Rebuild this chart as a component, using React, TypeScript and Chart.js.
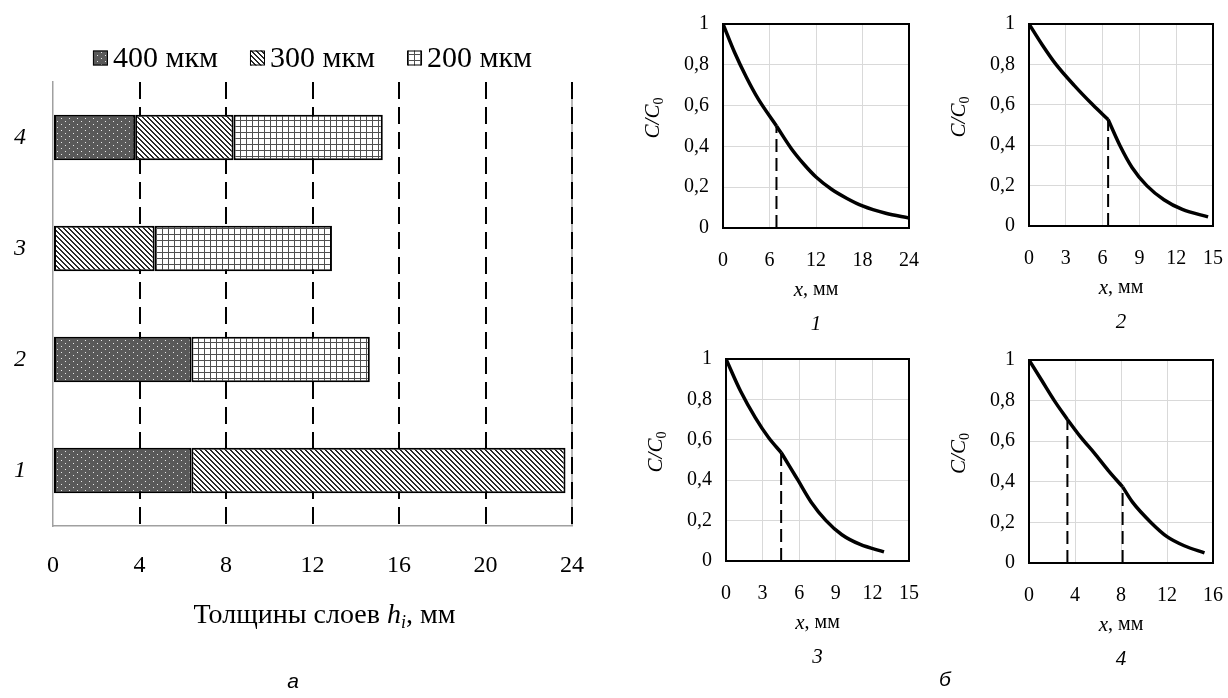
import React, { useEffect, useRef } from "react";
import { Chart, registerables } from "chart.js";
Chart.register(...registerables);

// ---------- Panel (а): layer thicknesses, mm ----------
const sampleLabels = ["1", "2", "3", "4"];
const layerNames = ["400 мкм", "300 мкм", "200 мкм"];
const layer400 = [6.4, 6.4, null, 3.8];
const layer300 = [17.3, null, 4.7, 4.55];
const layer200 = [null, 8.25, 8.2, 6.9];
const thicknessMax = 24;
const thicknessStep = 4;

// ---------- Panel (б): concentration profiles C/C0 vs x ----------
// profile 1
const p1aX = [0, 1.5, 3, 4.5, 6.9];
const p1aY = [1, 0.86, 0.74, 0.635, 0.5];
const p1bX = [6.9, 8.8, 10.5, 12, 14, 16, 18, 21, 24];
const p1bY = [0.5, 0.39, 0.31, 0.25, 0.19, 0.145, 0.108, 0.072, 0.049];
const p1CutX = [6.9];
const p1CutY = [0.5];
// profile 2
const p2aX = [0, 1.1, 2.2, 3.7, 5.2, 6.45];
const p2aY = [1, 0.895, 0.8, 0.695, 0.6, 0.527];
const p2bX = [6.45, 7.4, 8.4, 9.6, 11, 12.5, 14.6];
const p2bY = [0.527, 0.4, 0.29, 0.2, 0.13, 0.082, 0.045];
const p2CutX = [6.45];
const p2CutY = [0.527];
// profile 3
const p3aX = [0, 1.2, 2.4, 3.5, 4.52];
const p3aY = [1, 0.84, 0.71, 0.61, 0.537];
const p3bX = [4.52, 5.2, 5.9, 7, 8.2, 9.5, 11, 12.95];
const p3bY = [0.537, 0.47, 0.4, 0.29, 0.2, 0.13, 0.082, 0.045];
const p3CutX = [4.52];
const p3CutY = [0.537];
// profile 4
const p4aX = [0, 1.1, 2.2, 3.34];
const p4aY = [1, 0.9, 0.8, 0.707];
const p4bX = [3.34, 4.5, 5.7, 6.9, 8.14];
const p4bY = [0.707, 0.62, 0.54, 0.455, 0.375];
const p4cX = [8.14, 9, 10.6, 12, 13.5, 15.26];
const p4cY = [0.375, 0.3, 0.2, 0.13, 0.085, 0.05];
const p4CutX = [3.34, 8.14];
const p4CutY = [0.707, 0.375];

const xMaxes = [24, 15, 15, 16];
const xSteps = [6, 3, 3, 4];
const profileCaptions = ["1", "2", "3", "4"];

const SERIF = '"Liberation Serif", "Times New Roman", serif';

function makePattern(kind: string): CanvasPattern | string {
  const c = document.createElement("canvas");
  const g = c.getContext("2d");
  if (!g) return "#888";
  if (kind === "dots") {
    c.width = 8; c.height = 6;
    g.fillStyle = "#595959"; g.fillRect(0, 0, 8, 6);
    g.fillStyle = "#e8e8e8";
    g.fillRect(1, 1, 1, 1);
    g.fillRect(5, 4, 1, 1);
  } else if (kind === "diag") {
    c.width = 5; c.height = 5;
    g.fillStyle = "#ffffff"; g.fillRect(0, 0, 5, 5);
    g.fillStyle = "#2a2a2a";
    for (let i = 0; i < 5; i++) { g.fillRect(i, i, 1, 1); g.fillRect((i + 1) % 5, i, 1, 1); }
  } else {
    c.width = 6; c.height = 6;
    g.fillStyle = "#ffffff"; g.fillRect(0, 0, 6, 6);
    g.fillStyle = "#505050";
    g.fillRect(0, 0, 6, 1); g.fillRect(0, 0, 1, 6);
  }
  return g.createPattern(c, "repeat") || "#888";
}

type Box = { left: number; top: number; width: number; height: number };
type Area = { l: number; t: number; r: number; b: number };
function fitLayout(box: Box, a: Area) {
  return {
    padding: { top: a.t - box.top, right: box.left + box.width - a.r, left: 0, bottom: 0 },
    yWidth: a.l - box.left,
    xHeight: box.top + box.height - a.b,
  };
}
function zeroPad(s: any) {
  s.paddingLeft = 0; s.paddingRight = 0; s.paddingTop = 0; s.paddingBottom = 0;
}

const barBox: Box = { left: 0, top: 0, width: 620, height: 698 };
const barArea: Area = { l: 53, t: 82, r: 572, b: 526 };
const profBoxes: Box[] = [
  { left: 630, top: 0, width: 300, height: 340 },
  { left: 930, top: 0, width: 298, height: 340 },
  { left: 630, top: 340, width: 300, height: 358 },
  { left: 930, top: 340, width: 298, height: 358 },
];
const profAreas: Area[] = [
  { l: 723, t: 24, r: 909, b: 228 },
  { l: 1029, t: 24, r: 1213, b: 226 },
  { l: 726, t: 359, r: 909, b: 561 },
  { l: 1029, t: 360, r: 1213, b: 563 },
];

function drawParts(ctx: CanvasRenderingContext2D, parts: { t: string; f: string; dy?: number }[], cx: number, cy: number) {
  let total = 0;
  const ws = parts.map((p) => { ctx.font = p.f; const w = ctx.measureText(p.t).width; total += w; return w; });
  let x = cx - total / 2;
  ctx.textAlign = "left";
  ctx.textBaseline = "middle";
  parts.forEach((p, i) => { ctx.font = p.f; ctx.fillText(p.t, x, cy + (p.dy || 0)); x += ws[i]; });
}

function barConfig(patterns: (CanvasPattern | string)[]) {
  const lay = fitLayout(barBox, barArea);
  const decor = {
    id: "barDecor",
    beforeDraw(chart: any) {
      const { ctx, chartArea } = chart;
      ctx.save();
      ctx.strokeStyle = "#a0a0a0"; ctx.lineWidth = 1.5;
      ctx.beginPath(); ctx.moveTo(chartArea.right, chartArea.top); ctx.lineTo(chartArea.right, chartArea.bottom); ctx.stroke();
      ctx.restore();
    },
    afterDraw(chart: any) {
      const { ctx, chartArea } = chart;
      const cx = (chartArea.left + chartArea.right) / 2;
      ctx.save();
      // legend
      const box = 15, gapBT = 5, gapItems = 32;
      const lf = `30px ${SERIF}`;
      ctx.font = lf;
      const ds = chart.data.datasets;
      const widths = ds.map((d: any) => ctx.measureText(d.label).width);
      let total = 0;
      widths.forEach((w: number) => { total += box + gapBT + w; });
      total += gapItems * (ds.length - 1);
      let x = cx - total / 2;
      const yc = 58;
      ds.forEach((d: any, i: number) => {
        ctx.fillStyle = d.backgroundColor;
        ctx.fillRect(x, yc - box / 2, box, box);
        ctx.strokeStyle = "#000"; ctx.lineWidth = 1;
        ctx.strokeRect(x + 0.5, yc - box / 2 + 0.5, box - 1, box - 1);
        ctx.fillStyle = "#000";
        ctx.textAlign = "left"; ctx.textBaseline = "middle";
        ctx.font = lf;
        ctx.fillText(d.label, x + box + gapBT, yc + 1);
        x += box + gapBT + widths[i] + gapItems;
      });
      // axis title
      ctx.fillStyle = "#000";
      drawParts(ctx, [
        { t: "Толщины слоев ", f: `28px ${SERIF}` },
        { t: "h", f: `italic 28px ${SERIF}` },
        { t: "i", f: `italic 18px ${SERIF}`, dy: 7 },
        { t: ", мм", f: `28px ${SERIF}` },
      ], cx + 12, 616);
      ctx.restore();
    },
  };
  return {
    type: "bar",
    data: {
      labels: sampleLabels,
      datasets: [
        { label: layerNames[0], data: layer400, backgroundColor: patterns[0], borderColor: "#000", borderWidth: 2, borderSkipped: false },
        { label: layerNames[1], data: layer300, backgroundColor: patterns[1], borderColor: "#000", borderWidth: 2, borderSkipped: false },
        { label: layerNames[2], data: layer200, backgroundColor: patterns[2], borderColor: "#000", borderWidth: 2, borderSkipped: false },
      ],
    },
    options: {
      indexAxis: "y",
      animation: false,
      responsive: false,
      events: [],
      layout: { padding: lay.padding },
      datasets: { bar: { barPercentage: 0.41, categoryPercentage: 1 } },
      plugins: { legend: { display: false }, tooltip: { enabled: false } },
      scales: {
        x: {
          stacked: true, min: 0, max: thicknessMax,
          ticks: { stepSize: thicknessStep, color: "#000", font: { family: SERIF, size: 24 }, padding: 25, maxRotation: 0 },
          grid: {
            color: (c: any) => (c.tick && c.tick.value === 0 ? "rgba(0,0,0,0)" : "#000"),
            lineWidth: 2, drawTicks: false, borderDash: [17, 8],
          },
          border: { display: true, color: "#a0a0a0", width: 1.5, dash: [17, 8] },
          afterFit: (s: any) => { s.height = lay.xHeight; zeroPad(s); },
        },
        y: {
          stacked: true, reverse: true,
          ticks: { color: "#000", font: { family: SERIF, size: 24, style: "italic" }, padding: 27 },
          grid: { display: false, drawTicks: false },
          border: { display: true, color: "#a0a0a0", width: 1.5 },
          afterFit: (s: any) => { s.width = lay.yWidth; zeroPad(s); },
        },
      },
    },
    plugins: [decor],
  };
}

function profileConfig(idx: number, segX: number[][], segY: number[][], cutX: number[], cutY: number[]) {
  const lay = fitLayout(profBoxes[idx], profAreas[idx]);
  const datasets: any[] = [];
  segX.forEach((xs, s) => {
    datasets.push({
      data: xs.map((x, i) => ({ x, y: segY[s][i] })),
      borderColor: "#000", borderWidth: 3.5, pointRadius: 0,
      cubicInterpolationMode: "monotone", fill: false, order: 0,
    });
  });
  cutX.forEach((cx, i) => {
    datasets.push({
      data: [{ x: cx, y: 0 }, { x: cx, y: cutY[i] }],
      borderColor: "#000", borderWidth: 2, borderDash: [13, 6], pointRadius: 0, fill: false, order: 1,
    });
  });
  const decor = {
    id: "profDecor" + idx,
    beforeDatasetsDraw(chart: any) {
      const { ctx, chartArea: a } = chart;
      ctx.save();
      ctx.strokeStyle = "#000"; ctx.lineWidth = 2;
      ctx.strokeRect(a.left, a.top, a.right - a.left, a.bottom - a.top);
      ctx.restore();
    },
    afterDraw(chart: any) {
      const { ctx, chartArea: a } = chart;
      ctx.save();
      ctx.fillStyle = "#000";
      const cx = (a.left + a.right) / 2;
      drawParts(ctx, [
        { t: "x", f: `italic 21px ${SERIF}` },
        { t: ", мм", f: `20px ${SERIF}` },
      ], cx, a.bottom + 62);
      drawParts(ctx, [{ t: profileCaptions[idx], f: `italic 21px ${SERIF}` }], cx, a.bottom + 96);
      // y title C/C0 rotated
      ctx.translate(a.left - 70, (a.top + a.bottom) / 2 - 8);
      ctx.rotate(-Math.PI / 2);
      drawParts(ctx, [
        { t: "C/C", f: `italic 21px ${SERIF}` },
        { t: "0", f: `14px ${SERIF}`, dy: 6 },
      ], 0, 0);
      ctx.restore();
    },
  };
  const fmt = (v: any) => {
    const n = Number(v);
    if (Math.abs(n) < 1e-9) return "0";
    if (Math.abs(n - 1) < 1e-9) return "1";
    return n.toFixed(1).replace(".", ",");
  };
  return {
    type: "line",
    data: { datasets },
    options: {
      animation: false, responsive: false, events: [],
      layout: { padding: lay.padding },
      plugins: { legend: { display: false }, tooltip: { enabled: false } },
      scales: {
        x: {
          type: "linear", min: 0, max: xMaxes[idx],
          ticks: { stepSize: xSteps[idx], color: "#000", font: { family: SERIF, size: 20 }, padding: 21, maxRotation: 0, autoSkip: false },
          grid: { color: "#d9d9d9", lineWidth: 1, drawTicks: false },
          border: { display: false },
          afterFit: (s: any) => { s.height = lay.xHeight; zeroPad(s); },
        },
        y: {
          min: 0, max: 1,
          ticks: { stepSize: 0.2, color: "#000", font: { family: SERIF, size: 20 }, padding: 14, callback: fmt },
          grid: { color: "#d9d9d9", lineWidth: 1, drawTicks: false },
          border: { display: false },
          afterFit: (s: any) => { s.width = lay.yWidth; zeroPad(s); },
        },
      },
    },
    plugins: [decor],
  };
}

export default function App() {
  const barRef = useRef<HTMLCanvasElement>(null);
  const r1 = useRef<HTMLCanvasElement>(null);
  const r2 = useRef<HTMLCanvasElement>(null);
  const r3 = useRef<HTMLCanvasElement>(null);
  const r4 = useRef<HTMLCanvasElement>(null);

  useEffect(() => {
    const patterns = [makePattern("dots"), makePattern("diag"), makePattern("grid")];
    const charts: Chart[] = [];
    if (barRef.current) charts.push(new Chart(barRef.current, barConfig(patterns) as any));
    const defs = [
      { ref: r1, sx: [p1aX, p1bX], sy: [p1aY, p1bY], cx: p1CutX, cy: p1CutY },
      { ref: r2, sx: [p2aX, p2bX], sy: [p2aY, p2bY], cx: p2CutX, cy: p2CutY },
      { ref: r3, sx: [p3aX, p3bX], sy: [p3aY, p3bY], cx: p3CutX, cy: p3CutY },
      { ref: r4, sx: [p4aX, p4bX, p4cX], sy: [p4aY, p4bY, p4cY], cx: p4CutX, cy: p4CutY },
    ];
    defs.forEach((d, i) => {
      if (d.ref.current) charts.push(new Chart(d.ref.current, profileConfig(i, d.sx, d.sy, d.cx, d.cy) as any));
    });
    return () => charts.forEach((c) => c.destroy());
  }, []);

  const canvasStyle = (b: Box): React.CSSProperties => ({
    position: "absolute", left: b.left, top: b.top, width: b.width, height: b.height,
  });
  const capStyle = (x: number, y: number): React.CSSProperties => ({
    position: "absolute", left: x, top: y, transform: "translate(-50%, -50%)",
    font: 'italic 21px "Liberation Sans", Arial, sans-serif', color: "#000", lineHeight: 1,
  });

  return (
    <div style={{ position: "absolute", left: 0, top: 0, width: 1228, height: 698, background: "#fff", overflow: "hidden" }}>
      <canvas ref={barRef} width={barBox.width} height={barBox.height} style={canvasStyle(barBox)} />
      <canvas ref={r1} width={profBoxes[0].width} height={profBoxes[0].height} style={canvasStyle(profBoxes[0])} />
      <canvas ref={r2} width={profBoxes[1].width} height={profBoxes[1].height} style={canvasStyle(profBoxes[1])} />
      <canvas ref={r3} width={profBoxes[2].width} height={profBoxes[2].height} style={canvasStyle(profBoxes[2])} />
      <canvas ref={r4} width={profBoxes[3].width} height={profBoxes[3].height} style={canvasStyle(profBoxes[3])} />
      <div style={capStyle(293, 680)}>а</div>
      <div style={capStyle(945, 678)}>б</div>
    </div>
  );
}
